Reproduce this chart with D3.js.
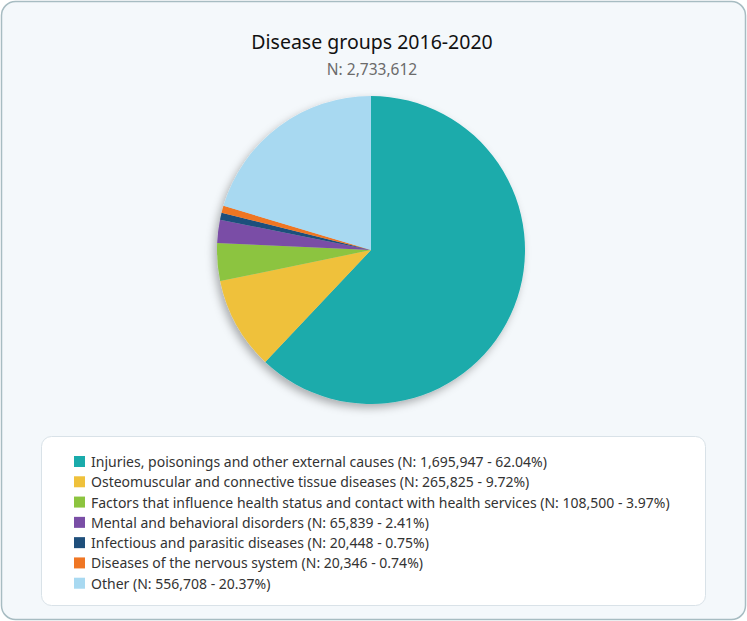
<!DOCTYPE html>
<html>
<head>
<meta charset="utf-8">
<script src="https://cdn.jsdelivr.net/npm/d3@7"></script>
<style>
  body { margin: 0; background: #ffffff; }
  svg { display: block; font-family: "Noto Sans", "Open Sans", sans-serif; }
</style>
</head>
<body>
<div id="chart"></div>
<script>
// Data
const categories = [
  "Injuries, poisonings and other external causes",
  "Osteomuscular and connective tissue diseases",
  "Factors that influence health status and contact with health services",
  "Mental and behavioral disorders",
  "Infectious and parasitic diseases",
  "Diseases of the nervous system",
  "Other"
];
const counts = [1695947, 265825, 108500, 65839, 20448, 20346, 556708];
const percents = [62.04, 9.72, 3.97, 2.41, 0.75, 0.74, 20.37];
const colors = ["#1aabab", "#efc13b", "#8cc43f", "#7a4ea6", "#1f4f7b", "#ef7624", "#a8d9f1"];
const title = "Disease groups 2016-2020";
const subtitle = "N: 2,733,612";

const W = 747, H = 621;
const fmt = d3.format(",");

const rows = categories.map((c, i) => ({ name: c, n: counts[i], pct: percents[i], color: colors[i] }));

const svg = d3.select("#chart").append("svg").attr("width", W).attr("height", H);

const defs = svg.append("defs");
const shadow = defs.append("filter").attr("id", "shadow")
  .attr("x", "-20%").attr("y", "-20%").attr("width", "140%").attr("height", "140%");
shadow.append("feDropShadow")
  .attr("dx", -3).attr("dy", 4).attr("stdDeviation", 4)
  .attr("flood-color", "#000").attr("flood-opacity", 0.3);

// outer frame
svg.append("rect")
  .attr("x", 1.5).attr("y", 1.5).attr("width", W - 3).attr("height", H - 3)
  .attr("rx", 14).attr("fill", "#f4f8fb").attr("stroke", "#a7bcc2").attr("stroke-width", 1.5);

// titles
svg.append("text").attr("x", 372).attr("y", 49).attr("text-anchor", "middle")
  .attr("font-size", 19.5).attr("fill", "#111").text(title);
svg.append("text").attr("x", 372).attr("y", 75).attr("text-anchor", "middle")
  .attr("font-size", 15.5).attr("fill", "#6b6b6b").text(subtitle);

// pie
const cx = 371, cy = 250, r = 154;
const pie = d3.pie().sort(null).value(d => d.n);
const arc = d3.arc().innerRadius(0).outerRadius(r);

const pieG = svg.append("g").attr("transform", `translate(${cx},${cy})`)
  .attr("filter", "url(#shadow)");
pieG.selectAll("path")
  .data(pie(rows))
  .join("path")
  .attr("d", arc)
  .attr("fill", d => d.data.color);

// legend
const lx = 41, ly = 436, lw = 664, lh = 169;
svg.append("rect")
  .attr("x", lx + 0.5).attr("y", ly + 0.5).attr("width", lw).attr("height", lh)
  .attr("rx", 10).attr("fill", "#ffffff").attr("stroke", "#d9e2e8");

const rowY = d3.scaleBand().domain(d3.range(rows.length)).range([452, 594]);

const item = svg.append("g").selectAll("g")
  .data(rows)
  .join("g")
  .attr("transform", (d, i) => `translate(74,${rowY(i)})`);

item.append("rect")
  .attr("x", 0).attr("y", 4).attr("width", 11).attr("height", 11)
  .attr("fill", d => d.color);

item.append("text")
  .attr("x", 17).attr("y", 15)
  .attr("font-size", 14).attr("fill", "#333")
  .text(d => `${d.name} (N: ${fmt(d.n)} - ${d.pct.toFixed(2)}%)`);
</script>
</body>
</html>
